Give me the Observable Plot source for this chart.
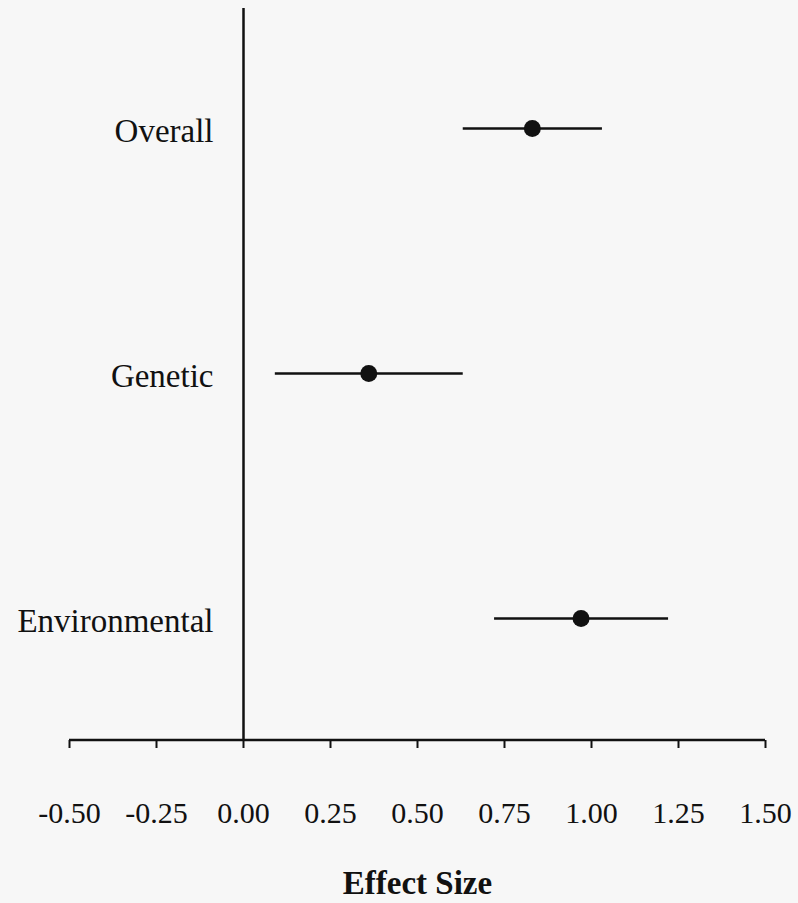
<!DOCTYPE html>
<html>
<head>
<meta charset="utf-8">
<script src="https://cdn.jsdelivr.net/npm/d3@7"></script>
<script src="https://cdn.jsdelivr.net/npm/@observablehq/plot@0.6"></script>
<style>
  html, body { margin: 0; padding: 0; background: #f7f7f7; }
  #chart svg { display: block; }
</style>
</head>
<body>
<div id="chart"></div>
<script>
const categories = ["Overall", "Genetic", "Environmental"];
const estimates = [0.83, 0.36, 0.97];
const lower = [0.63, 0.09, 0.72];
const upper = [1.03, 0.63, 1.22];
const tickValues = [-0.5, -0.25, 0, 0.25, 0.5, 0.75, 1, 1.25, 1.5];
const xLabel = "Effect Size";

const data = categories.map((c, i) => ({ name: c, est: estimates[i], lo: lower[i], hi: upper[i] }));

const font = "'Liberation Serif', 'Times New Roman', serif";

// custom mark: horizontal axis line across the x domain at the bottom of the frame
const axisLine = (index, scales, values, dims) => {
  const g = d3.create("svg:line")
    .attr("x1", scales.x(tickValues[0]))
    .attr("x2", scales.x(tickValues[tickValues.length - 1]))
    .attr("y1", dims.height - dims.marginBottom)
    .attr("y2", dims.height - dims.marginBottom)
    .attr("stroke", "#111")
    .attr("stroke-width", 2.5);
  return g.node();
};

const chart = Plot.plot({
  width: 798,
  height: 903,
  marginTop: 8,
  marginBottom: 163,
  marginLeft: 69,
  marginRight: 33,
  style: { background: "transparent", fontFamily: font, color: "#111" },
  x: { domain: [-0.5, 1.5] },
  y: { domain: categories, type: "point", range: [128, 618], padding: 0, axis: null },
  marks: [
    Plot.ruleX([0], { stroke: "#111", strokeWidth: 2.5 }),
    axisLine,
    Plot.axisX({
      ticks: tickValues,
      tickFormat: (d) => d.toFixed(2),
      tickSize: 8,
      tickPadding: 53,
      strokeWidth: 2,
      fontSize: 30,
      fill: "#111",
      stroke: "#111",
      label: null
    }),
    Plot.link(data, { x1: "lo", x2: "hi", y1: "name", y2: "name", stroke: "#111", strokeWidth: 2.5 }),
    Plot.dot(data, { x: "est", y: "name", r: 8.5, fill: "#111", stroke: "none" }),
    Plot.text(data, { x: () => 0, y: "name", text: "name", dx: -30, dy: 3, textAnchor: "end", fontSize: 33, fill: "#111" }),
    Plot.text([xLabel], { frameAnchor: "bottom", x: () => 0.5, text: (d) => d, dy: 153, fontSize: 33, fontWeight: "bold", fill: "#111" })
  ]
});

document.getElementById("chart").append(chart);
</script>
</body>
</html>
